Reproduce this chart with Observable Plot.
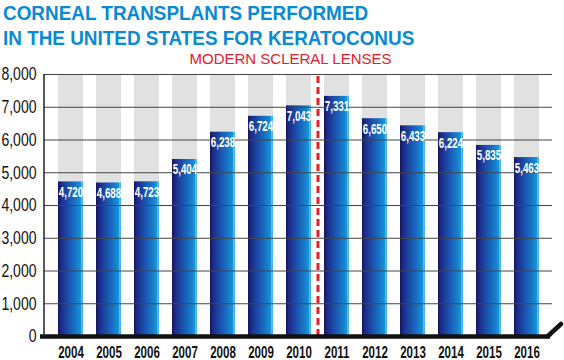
<!DOCTYPE html>
<html>
<head>
<meta charset="utf-8">
<script src="https://cdn.jsdelivr.net/npm/d3@7"></script>
<script src="https://cdn.jsdelivr.net/npm/@observablehq/plot@0.6"></script>
<style>
  html, body { margin: 0; padding: 0; background: #fff; }
  #title {
    height: 50px; box-sizing: border-box; padding-left: 3px; overflow: visible; white-space: nowrap;
  }
  #title span {
    display: inline-block; transform: scaleX(0.9); transform-origin: left top;
    font-family: "Liberation Sans", Arial, sans-serif;
    font-weight: bold; color: #0a8ad2; font-size: 21px; line-height: 25px;
  }
  svg { display: block; overflow: visible; }
</style>
</head>
<body>
<div id="title"><span>CORNEAL TRANSPLANTS PERFORMED<br>IN THE UNITED STATES FOR KERATOCONUS</span></div>
<div id="chart"></div>
<script>
const years = ["2004","2005","2006","2007","2008","2009","2010","2011","2012","2013","2014","2015","2016"];
const transplants = [4720, 4688, 4723, 5404, 6238, 6724, 7043, 7331, 6650, 6433, 6224, 5835, 5463];
const yTicks = [0, 1000, 2000, 3000, 4000, 5000, 6000, 7000, 8000];
const yMax = 8000;
const markerYear = "2011";
const markerLabel = "MODERN SCLERAL LENSES";

const data = years.map((year, i) => ({year, value: transplants[i]}));
const fmt = d3.format(",");
const font = "'Liberation Sans', Arial, sans-serif";

function build(step) {
  return Plot.plot({
    width: 564,
    height: 310,
    marginTop: 24,
    marginBottom: 24,
    marginLeft: 44,
    marginRight: 12,
    style: {fontFamily: font, background: "#fff", overflow: "visible"},
    x: {domain: years, paddingInner: 0.35, paddingOuter: 0.27},
    y: {domain: [0, yMax]},
    marks: [
      Plot.barY(years, {x: d => d, y: () => yMax, fill: "#e1e1e1"}),
      Plot.barY(data, {x: "year", y: "value", fill: "url(#barGrad)"}),
      Plot.ruleY(yTicks.filter(d => d > 0), {stroke: "#444", strokeWidth: 1}),
      Plot.ruleX([markerYear], {dx: -step / 2, y1: 0, y2: yMax + 60, stroke: "#e2202b", strokeWidth: 3, strokeDasharray: "7,4"}),
      Plot.text(data, {x: "year", y: "value", text: d => fmt(d.value), fill: "#fff", fontSize: 14, fontWeight: "bold", lineAnchor: "top", dy: 5, ariaDescription: "value-labels"}),
      Plot.text([markerLabel], {frameAnchor: "top", dx: -8, dy: -11, lineAnchor: "bottom", fill: "#e2202b", fontSize: 15, letterSpacing: "1.5px", ariaDescription: "marker-label"}),
      Plot.axisY({ticks: yTicks, tickFormat: fmt, tickSize: 0, tickPadding: 8, fontSize: 18, fill: "#111", label: null}),
      Plot.axisX({tickSize: 0, tickPadding: 9, fontSize: 17, fontWeight: "bold", fill: "#111", label: null}),
      Plot.ruleY([0], {stroke: "#111", strokeWidth: 4.5, insetLeft: -4, insetRight: 2})
    ]
  });
}

const first = build(38.5);
const step = first.scale("x").step;
const chart = build(step);
const svg = d3.select(chart);

// condense text horizontally (the reference uses a condensed face)
function squeeze(selector, sx) {
  svg.selectAll(selector).each(function() {
    const t = this.getAttribute("transform") || "";
    this.setAttribute("transform", `${t} scale(${sx},1)`);
  });
}
squeeze('g[aria-label="y-axis tick label"] text', 0.78);
squeeze('g[aria-label="x-axis tick label"] text', 0.68);
squeeze('g[aria-description="value-labels"] text', 0.7);

// gradient for bars
const defs = svg.insert("defs", ":first-child");
const g = defs.append("linearGradient").attr("id", "barGrad").attr("x1", "0").attr("x2", "1").attr("y1", "0").attr("y2", "0");
[["0%", "#15165a"], ["12%", "#1b2a88"], ["45%", "#1a55b0"], ["80%", "#1583cf"], ["90%", "#1a92d8"], ["93%", "#55c0ee"], ["100%", "#3fb0e6"]]
  .forEach(([o, c]) => g.append("stop").attr("offset", o).attr("stop-color", c));

// axis line and baseline end flourish, derived from scales
const ys = chart.scale("y");
const xs = chart.scale("x");
const y0 = ys.apply(0);
const yTop = ys.apply(yMax);
const xl = xs.range[0];
const xr = xs.range[1];
svg.append("path")
  .attr("d", `M${xl},${yTop} L${xl},${y0}`)
  .attr("stroke", "#222").attr("stroke-width", 1.5).attr("fill", "none");
svg.append("path")
  .attr("d", `M${xr - 4},${y0} L${xr + 9},${y0 - 12}`)
  .attr("stroke", "#111").attr("stroke-width", 4.5).attr("stroke-linecap", "round").attr("fill", "none");

document.getElementById("chart").appendChild(chart);
</script>
</body>
</html>
